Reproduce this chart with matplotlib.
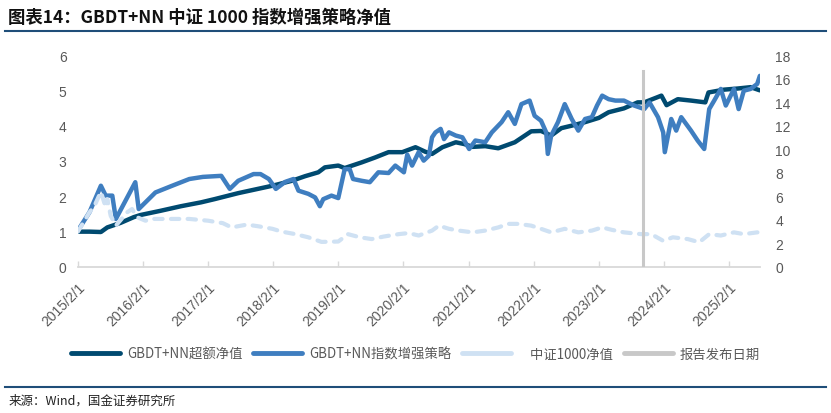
import matplotlib
matplotlib.use('Agg')
import matplotlib.pyplot as plt
from matplotlib.lines import Line2D
import pandas as pd

# ---------------- data ----------------
excess_dates = ['2015-02-02','2015-04-08','2015-06-11','2015-07-17','2015-09-30','2015-12-12','2016-01-18',
    '2016-05-10','2016-09-02','2016-12-24','2017-03-09','2017-07-20','2018-01-28','2018-05-17','2018-07-30',
    '2018-10-12','2018-11-18','2019-02-01','2019-03-09','2019-06-12','2019-08-27','2019-11-10','2020-01-26',
    '2020-04-09','2020-06-04','2020-07-11','2020-09-07','2020-11-21','2021-01-07','2021-02-23','2021-05-05',
    '2021-07-17','2021-10-18','2022-01-18','2022-03-14','2022-05-10','2022-07-06','2022-09-02','2022-11-16',
    '2023-02-01','2023-03-28','2023-06-22','2023-09-07','2023-10-14','2024-01-18','2024-02-16','2024-04-19',
    '2024-07-02','2024-09-20','2024-10-08','2025-01-04','2025-03-18','2025-06-01','2025-07-23']
excess_values = [1.00,1.00,0.99,1.12,1.25,1.41,1.47,
    1.59,1.72,1.83,1.92,2.09,2.30,2.44,2.57,
    2.68,2.82,2.87,2.80,2.96,3.10,3.25,3.25,
    3.39,3.26,3.20,3.39,3.53,3.48,3.40,3.42,
    3.36,3.53,3.84,3.85,3.72,3.93,4.00,4.10,
    4.22,4.38,4.49,4.66,4.66,4.85,4.58,4.75,
    4.71,4.66,4.94,5.02,5.05,5.09,5.00]

strategy_dates = ['2015-02-02','2015-04-08','2015-06-11','2015-07-08','2015-08-14','2015-09-03','2015-12-21',
    '2016-01-09','2016-02-16','2016-04-12','2016-07-15','2016-10-19','2017-01-03','2017-04-16','2017-06-03',
    '2017-07-20','2017-10-14','2017-11-22','2018-01-08','2018-02-16','2018-04-10','2018-05-26','2018-06-23',
    '2018-08-17','2018-09-24','2018-10-21','2018-11-09','2018-12-25','2019-02-01','2019-03-09','2019-04-06',
    '2019-04-25','2019-06-12','2019-07-28','2019-09-14','2019-11-10','2019-12-18','2020-02-04','2020-02-23',
    '2020-03-21','2020-04-27','2020-05-25','2020-06-23','2020-07-11','2020-07-30','2020-08-28','2020-09-16',
    '2020-10-14','2020-11-21','2020-12-28','2021-02-04','2021-03-11','2021-05-05','2021-06-11','2021-08-05',
    '2021-09-11','2021-10-18','2021-11-24','2022-01-09','2022-02-06','2022-03-14','2022-04-12','2022-04-21',
    '2022-05-10','2022-06-17','2022-07-25','2022-09-02','2022-10-09','2022-11-16','2022-12-24','2023-01-22',
    '2023-02-20','2023-03-28','2023-05-05','2023-06-22','2023-08-18','2023-10-14','2023-11-12','2023-12-30',
    '2024-01-28','2024-02-06','2024-03-13','2024-04-10','2024-05-08','2024-07-02','2024-08-08','2024-09-14',
    '2024-10-12','2024-11-09','2024-12-16','2025-01-13','2025-02-28','2025-03-26','2025-04-24','2025-06-01',
    '2025-07-08','2025-07-23']
strategy_values = [1.03,1.55,2.30,2.02,2.02,1.36,2.40,
    1.64,1.83,2.11,2.30,2.49,2.55,2.58,2.21,
    2.44,2.63,2.63,2.49,2.21,2.41,2.49,2.16,
    2.07,1.97,1.72,1.92,2.02,1.95,2.77,2.77,
    2.49,2.44,2.40,2.68,2.66,2.87,2.68,3.18,
    2.87,3.25,3.01,3.15,3.67,3.81,3.91,3.62,
    3.81,3.72,3.67,3.34,3.58,3.53,3.81,4.10,
    4.38,4.05,4.61,4.71,4.28,4.14,3.81,3.20,
    3.72,4.10,4.61,4.19,3.86,4.19,4.24,4.57,
    4.85,4.75,4.71,4.71,4.57,4.47,4.66,4.24,
    3.81,3.25,4.19,3.86,4.24,3.86,3.58,3.34,
    4.47,4.71,5.04,4.57,5.04,4.47,4.99,5.04,
    5.18,5.41]

index_dates = ['2015-02-02','2015-04-08','2015-05-05','2015-06-11','2015-07-08','2015-07-17','2015-08-05',
    '2015-09-03','2015-11-06','2015-12-03','2015-12-30','2016-02-16','2016-04-03','2016-07-25','2016-10-19',
    '2017-02-01','2017-04-25','2017-06-13','2017-09-07','2017-11-12','2018-01-28','2018-03-22','2018-06-05',
    '2018-08-17','2018-10-30','2019-02-01','2019-03-27','2019-06-02','2019-08-08','2019-10-12','2020-01-06',
    '2020-03-02','2020-04-27','2020-07-11','2020-08-18','2020-10-14','2020-12-08','2021-02-23','2021-05-05',
    '2021-07-17','2021-09-11','2021-11-05','2022-01-18','2022-03-14','2022-05-10','2022-07-25','2022-10-09',
    '2022-12-24','2023-02-20','2023-04-16','2023-06-22','2023-09-26','2023-11-22','2024-01-28','2024-03-22',
    '2024-06-14','2024-08-17','2024-10-12','2024-12-16','2025-02-28','2025-04-24','2025-07-08','2025-07-23']
index_values = [1.00,1.55,1.72,2.13,1.69,1.92,1.45,
    1.17,1.55,1.64,1.41,1.31,1.36,1.36,1.36,
    1.31,1.24,1.12,1.20,1.15,1.08,1.00,0.93,
    0.84,0.71,0.72,0.93,0.84,0.79,0.86,0.93,
    0.96,0.89,1.03,1.17,1.08,1.03,0.98,1.03,
    1.12,1.22,1.22,1.17,1.08,0.98,1.08,0.98,
    1.03,1.12,1.05,0.98,0.93,0.93,0.74,0.84,
    0.79,0.70,0.93,0.89,0.98,0.93,0.98,0.98]

release_date = '2023-10-09'
release_top = 5.56

xtick_dates = ['2015-02-01','2016-02-01','2017-02-01','2018-02-01','2019-02-01','2020-02-01',
               '2021-02-01','2022-02-01','2023-02-01','2024-02-01','2025-02-01']
xtick_labels = ['2015/2/1','2016/2/1','2017/2/1','2018/2/1','2019/2/1','2020/2/1',
                '2021/2/1','2022/2/1','2023/2/1','2024/2/1','2025/2/1']
left_ticks = [0, 1, 2, 3, 4, 5, 6]
right_ticks = [0, 2, 4, 6, 8, 10, 12, 14, 16, 18]

labels = ['GBDT+NN超额净值', 'GBDT+NN指数增强策略', '    中证1000净值', '报告发布日期']
title = '图表14：GBDT+NN 中证 1000 指数增强策略净值'
source = '来源：Wind，国金证券研究所'

# ---------------- style ----------------
C_DARK = '#004A70'
C_MID = '#3F7EC0'
C_LIGHT = '#CFE1F3'
C_GREY = '#C8C8C8'
C_TEXT = '#595959'
C_RULE = '#1F4E79'

plt.rcParams['font.family'] = ['Liberation Sans', 'Noto Sans CJK SC', 'DejaVu Sans']

fig = plt.figure(figsize=(8.31, 4.14), dpi=100)
ax = fig.add_axes([0.0935, 0.3527, 0.8211, 0.512])

d_ex = pd.to_datetime(excess_dates)
d_st = pd.to_datetime(strategy_dates)
d_ix = pd.to_datetime(index_dates)

ax.plot(d_ex, excess_values, color=C_DARK, lw=3.2, solid_capstyle='round', solid_joinstyle='round', zorder=3)
ax.plot(d_st, strategy_values, color=C_MID, lw=3.2, solid_capstyle='round', solid_joinstyle='round', zorder=4)
ax.plot(d_ix, index_values, color=C_LIGHT, lw=3.0, dashes=(2.0, 2.0), dash_capstyle='round', zorder=5)
ax.axvline(pd.Timestamp(release_date), ymin=0, ymax=release_top / 6, color=C_GREY, lw=2.2, zorder=6)

ax.set_xlim(pd.Timestamp('2015-02-01'), pd.Timestamp('2025-07-24'))
ax.set_ylim(0, 6)
ax.set_yticks(left_ticks)
ax.set_xticks(pd.to_datetime(xtick_dates))
ax.set_xticklabels(xtick_labels, rotation=45, ha='right', rotation_mode='anchor')
ax.tick_params(axis='x', colors=C_TEXT, labelsize=10, length=4, width=1, color='#D9D9D9',
               direction='in', pad=9)
ax.tick_params(axis='y', colors=C_TEXT, labelsize=10, length=0, pad=8)
for s in ['top', 'right', 'left']:
    ax.spines[s].set_visible(False)
ax.spines['bottom'].set_color('#D9D9D9')
ax.spines['bottom'].set_linewidth(1.3)

ax2 = ax.twinx()
ax2.set_ylim(0, 18)
ax2.set_yticks(right_ticks)
ax2.tick_params(axis='y', colors=C_TEXT, labelsize=10, length=0, pad=11)
for s in ['top', 'right', 'left', 'bottom']:
    ax2.spines[s].set_visible(False)

handles = [Line2D([], [], color=C_DARK, lw=3.5, solid_capstyle='round'),
           Line2D([], [], color=C_MID, lw=3.5, solid_capstyle='round'),
           Line2D([], [], color=C_LIGHT, lw=3.5, solid_capstyle='round'),
           Line2D([], [], color=C_GREY, lw=3.5, solid_capstyle='round')]
leg = fig.legend(handles, labels, loc='center', bbox_to_anchor=(0.5, 1 - 355 / 414), ncol=4,
                 frameon=False, handlelength=3.7, handletextpad=0.5, columnspacing=0.8,
                 prop={'family': ['Noto Sans CJK SC'], 'size': 9.6})
for t in leg.get_texts():
    t.set_color(C_TEXT)

fig.text(0.01, 1 - 18 / 414, title, fontsize=12.5, fontweight='bold', style='italic',
         family=['Noto Sans CJK SC', 'DejaVu Sans'], va='center', ha='left', color='#111111')
fig.add_artist(Line2D([0.006, 0.994], [1 - 32 / 414] * 2, color=C_RULE, lw=1.5))
fig.add_artist(Line2D([0.006, 0.994], [1 - 388 / 414] * 2, color=C_RULE, lw=1.5))
fig.text(0.01, 1 - 401 / 414, source, fontsize=9, family=['Noto Sans CJK SC', 'DejaVu Sans'],
         va='center', ha='left', color='#222222')

fig.savefig('out.png', dpi=100)
